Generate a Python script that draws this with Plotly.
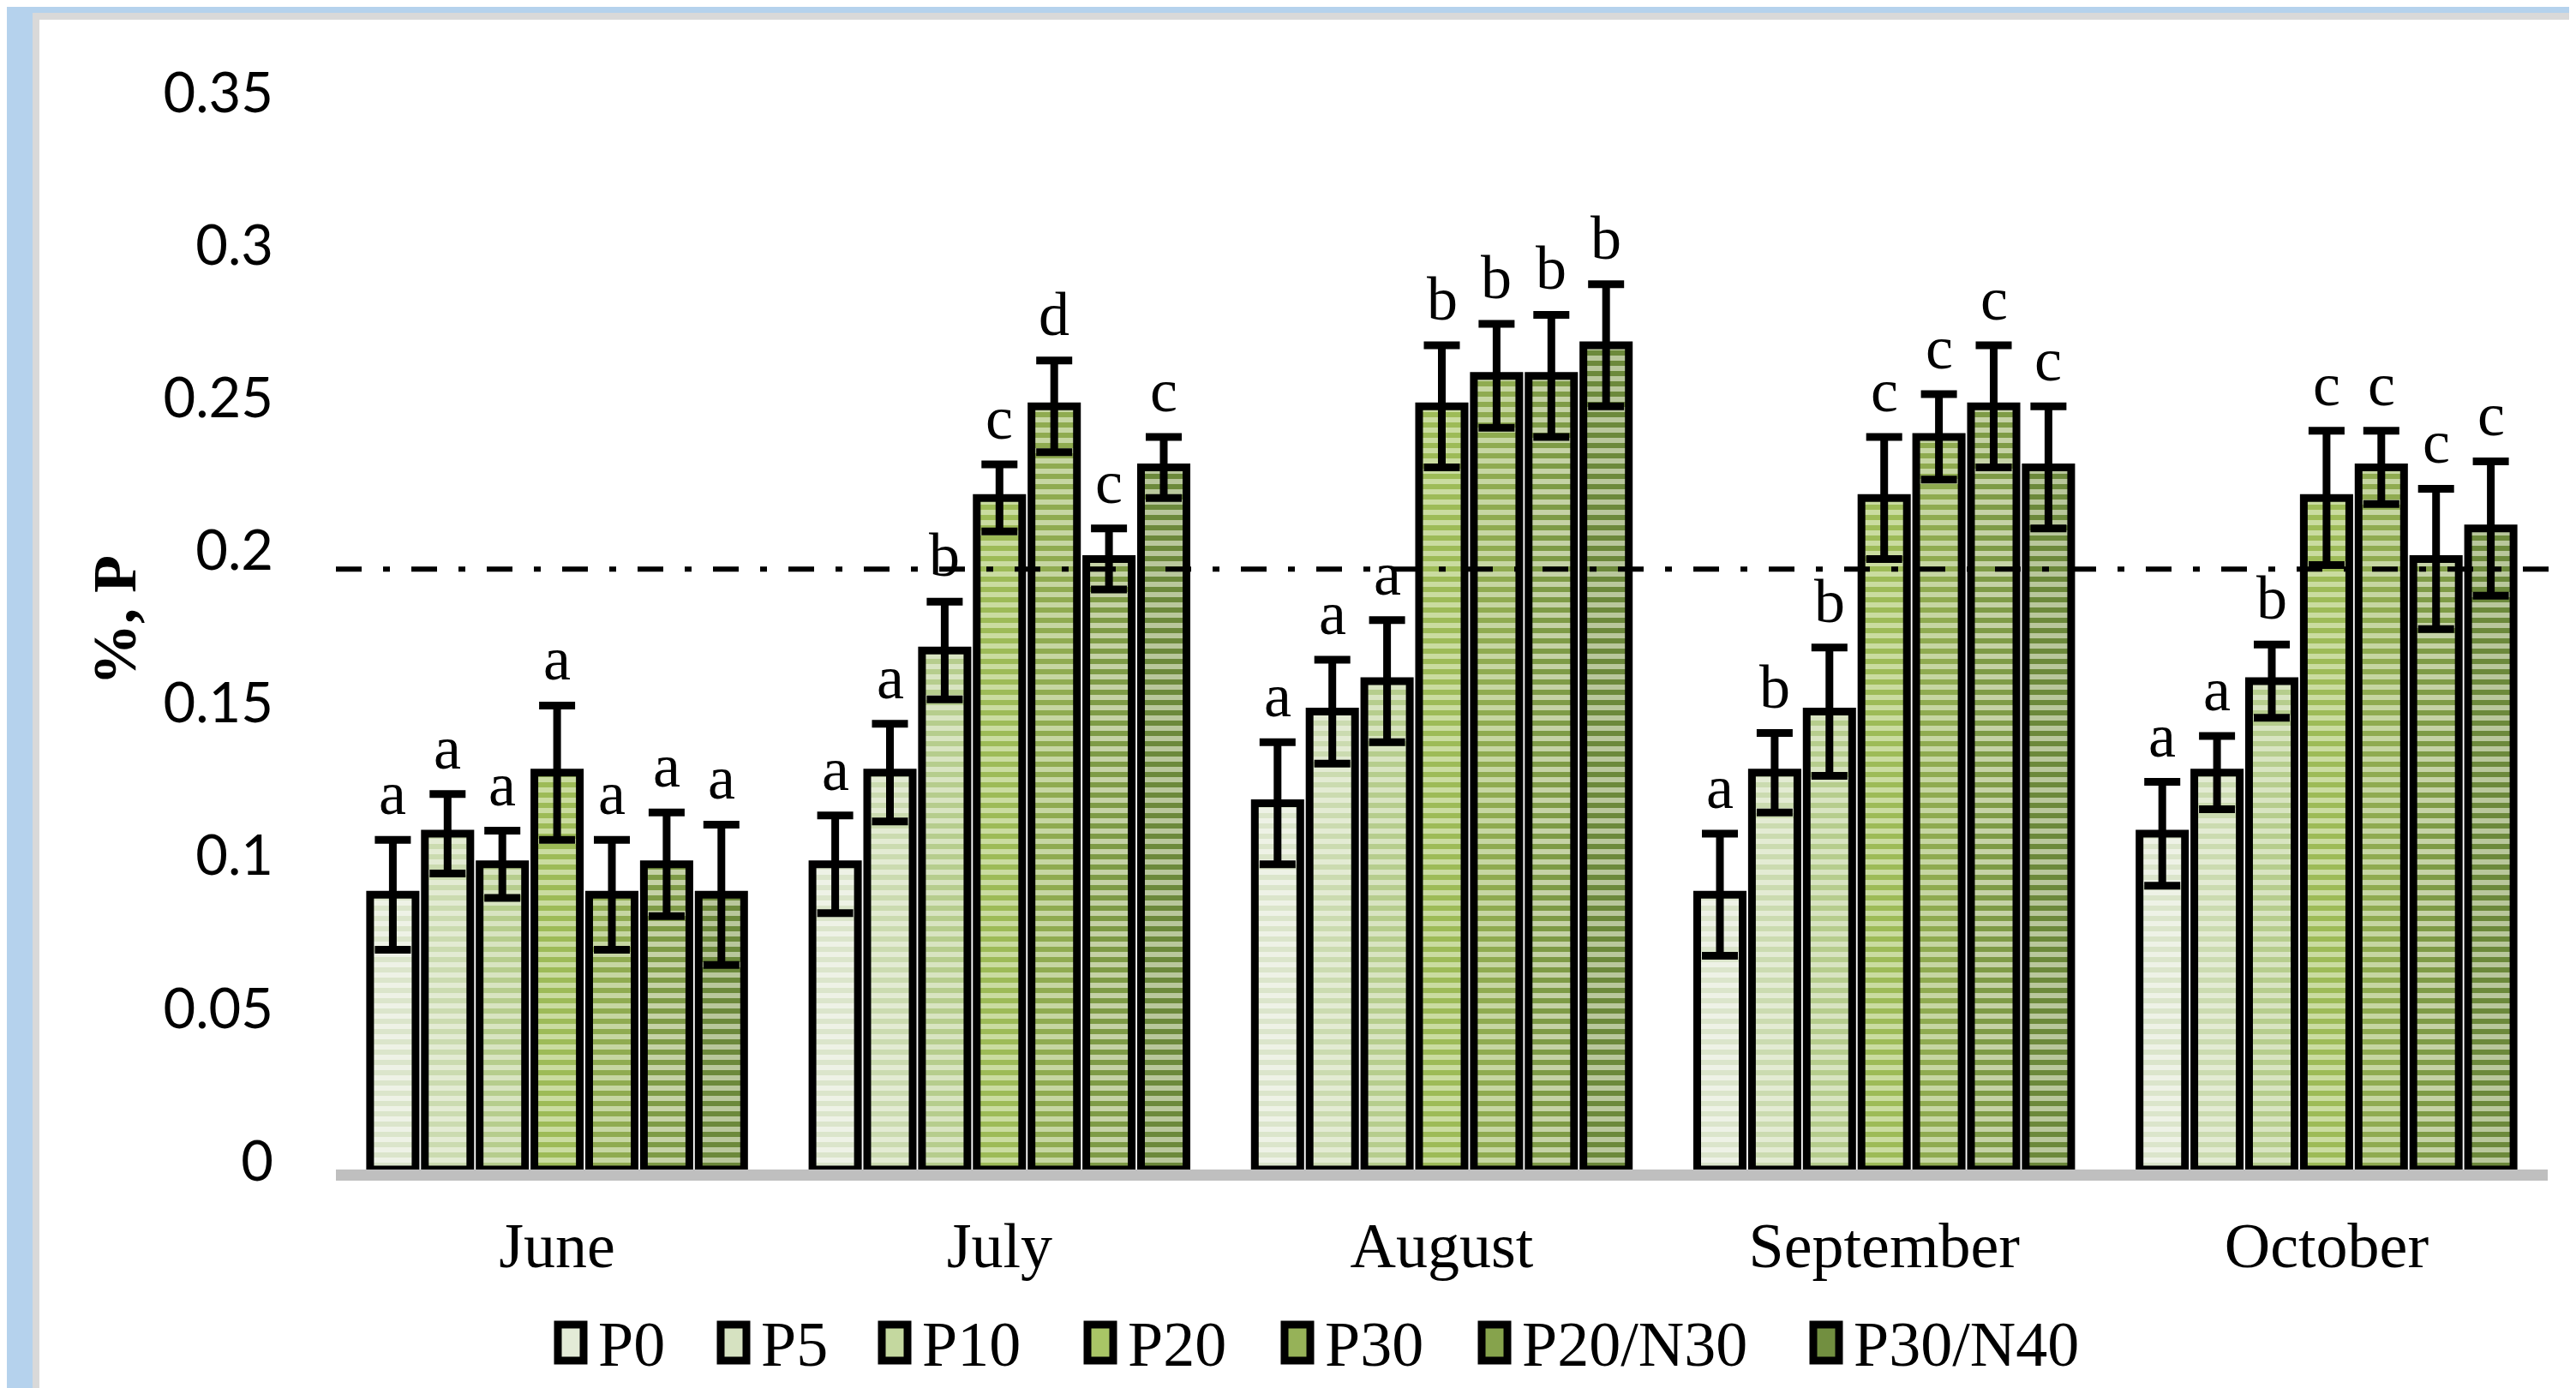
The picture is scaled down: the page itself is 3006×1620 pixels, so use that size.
import plotly.graph_objects as go

# ---------------- data ----------------
months = ["June", "July", "August", "September", "October"]
series_names = ["P0", "P5", "P10", "P20", "P30", "P20/N30", "P30/N40"]

p0 = [0.09, 0.10, 0.12, 0.09, 0.11]
p5 = [0.11, 0.13, 0.15, 0.13, 0.13]
p10 = [0.10, 0.17, 0.16, 0.15, 0.16]
p20 = [0.13, 0.22, 0.25, 0.22, 0.22]
p30 = [0.09, 0.25, 0.26, 0.24, 0.23]
p20n30 = [0.10, 0.20, 0.26, 0.25, 0.20]
p30n40 = [0.09, 0.23, 0.27, 0.23, 0.21]
series_values = [p0, p5, p10, p20, p30, p20n30, p30n40]

err_p0 = [0.018, 0.016, 0.020, 0.020, 0.017]
err_p5 = [0.013, 0.016, 0.017, 0.013, 0.012]
err_p10 = [0.011, 0.016, 0.020, 0.021, 0.012]
err_p20 = [0.022, 0.011, 0.020, 0.020, 0.022]
err_p30 = [0.018, 0.015, 0.017, 0.014, 0.012]
err_p20n30 = [0.017, 0.010, 0.020, 0.020, 0.023]
err_p30n40 = [0.023, 0.010, 0.020, 0.020, 0.022]
series_errors = [err_p0, err_p5, err_p10, err_p20, err_p30, err_p20n30, err_p30n40]

let_p0 = ["a", "a", "a", "a", "a"]
let_p5 = ["a", "a", "a", "b", "a"]
let_p10 = ["a", "b", "a", "b", "b"]
let_p20 = ["a", "c", "b", "c", "c"]
let_p30 = ["a", "d", "b", "c", "c"]
let_p20n30 = ["a", "c", "b", "c", "c"]
let_p30n40 = ["a", "c", "b", "c", "c"]
series_letters = [let_p0, let_p5, let_p10, let_p20, let_p30, let_p20n30, let_p30n40]

reference_level = 0.1967
y_tick_vals = [0, 0.05, 0.1, 0.15, 0.2, 0.25, 0.3, 0.35]
y_tick_text = ["0", "0.05", "0.1", "0.15", "0.2", "0.25", "0.3", "0.35"]

# ---------------- style ----------------
light_cols = ["#eef2e6", "#e3ebd3", "#d8e4c1", "#cadca0", "#c6d6a2", "#c5d2a6", "#b9c79c"]
dark_cols = ["#dbe5cb", "#cbdbb0", "#b6cd8d", "#9dbb57", "#8fab50", "#7e9b46", "#6c893b"]
legend_cols = ["#e3ebd7", "#d6e2c1", "#c4d89f", "#a9c566", "#96b258", "#86a34c", "#728f40"]

W, H = 3006, 1620
L, R = 384, 2965
T, B = 110, 1357
BARGAP = 0.1335

serif = "Liberation Serif, Times New Roman, serif"


def px_x(px):
    return (px - L) / (R - L)


def px_y(py):
    return (B - py) / (B - T)


fig = go.Figure()
for i, name in enumerate(series_names):
    fig.add_trace(go.Bar(
        name=name,
        x=months,
        y=series_values[i],
        marker=dict(
            color=light_cols[i],
            line=dict(color="black", width=9),
            pattern=dict(shape="-", size=12, solidity=0.5,
                         fgcolor=dark_cols[i], bgcolor=light_cols[i],
                         fillmode="replace"),
        ),
        error_y=dict(type="data", array=series_errors[i], visible=True,
                     color="black", thickness=9, width=21),
        showlegend=False,
    ))

# significance letters
annotations = []
slot = (1 - BARGAP) / len(series_names)
for i in range(len(series_names)):
    for g in range(len(months)):
        annotations.append(dict(
            x=g + (i - (len(series_names) - 1) / 2) * slot,
            y=series_values[i][g] + series_errors[i][g],
            xref="x", yref="y",
            text=series_letters[i][g],
            showarrow=False, yanchor="bottom", xanchor="center",
            yshift=12,
            font=dict(family=serif, size=72, color="black"),
        ))

# y axis title
annotations.append(dict(
    x=px_x(126), y=px_y(716), xref="paper", yref="paper",
    text="<b>%, P</b>", textangle=-90, showarrow=False,
    xanchor="center", yanchor="middle",
    font=dict(family=serif, size=72, color="black"),
))

shapes = []
# frame: blue paper, gray border, white panel
shapes.append(dict(type="rect", xref="paper", yref="paper", layer="below",
                   x0=px_x(30), x1=px_x(W + 50), y0=px_y(H + 50), y1=px_y(7),
                   fillcolor="#d9d9d9", line=dict(width=0)))
shapes.append(dict(type="rect", xref="paper", yref="paper", layer="below",
                   x0=px_x(38), x1=px_x(W + 50), y0=px_y(H + 50), y1=px_y(15),
                   fillcolor="white", line=dict(width=0)))
# reference dash-dot line
shapes.append(dict(type="line", xref="paper", yref="y", layer="above",
                   x0=0, x1=px_x(2985), y0=reference_level, y1=reference_level,
                   line=dict(color="black", width=6, dash="30px,25px,8px,25px")))

# custom legend (swatches + labels)
legend_left = [638, 828, 1016, 1256, 1486, 1716, 2103]
legend_y = 1559
for i, name in enumerate(series_names):
    x0 = legend_left[i] + 5
    shapes.append(dict(type="rect", xref="paper", yref="paper", layer="above",
                       x0=px_x(x0), x1=px_x(x0 + 30),
                       y0=px_y(legend_y + 21), y1=px_y(legend_y - 21),
                       fillcolor=legend_cols[i], line=dict(color="black", width=9)))
    annotations.append(dict(
        x=px_x(legend_left[i] + 50), y=px_y(legend_y + 2), xref="paper", yref="paper",
        text=name, showarrow=False, xanchor="left", yanchor="middle",
        font=dict(family=serif, size=74, color="black"),
    ))

fig.update_layout(
    width=W, height=H,
    margin=dict(l=L, r=W - R, t=T, b=H - B, pad=0),
    paper_bgcolor="#b5d2ed",
    plot_bgcolor="rgba(0,0,0,0)",
    barmode="group",
    bargap=BARGAP,
    bargroupgap=0.17,
    showlegend=False,
    annotations=annotations,
    shapes=shapes,
    xaxis=dict(
        showline=True, linecolor="#bfbfbf", linewidth=13,
        showgrid=False, zeroline=False, ticks="",
        tickfont=dict(family=serif, size=74, color="black"),
        ticklabelstandoff=12,
    ),
    yaxis=dict(
        range=[0, 0.35], showline=False, showgrid=False, zeroline=False,
        tickvals=y_tick_vals, ticktext=y_tick_text, ticks="",
        tickfont=dict(family="Lato, Calibri, sans-serif", size=65, color="black"),
        ticklabelstandoff=72,
        ticklabelshift=-10,
    ),
)

fig.write_html("out.html")
